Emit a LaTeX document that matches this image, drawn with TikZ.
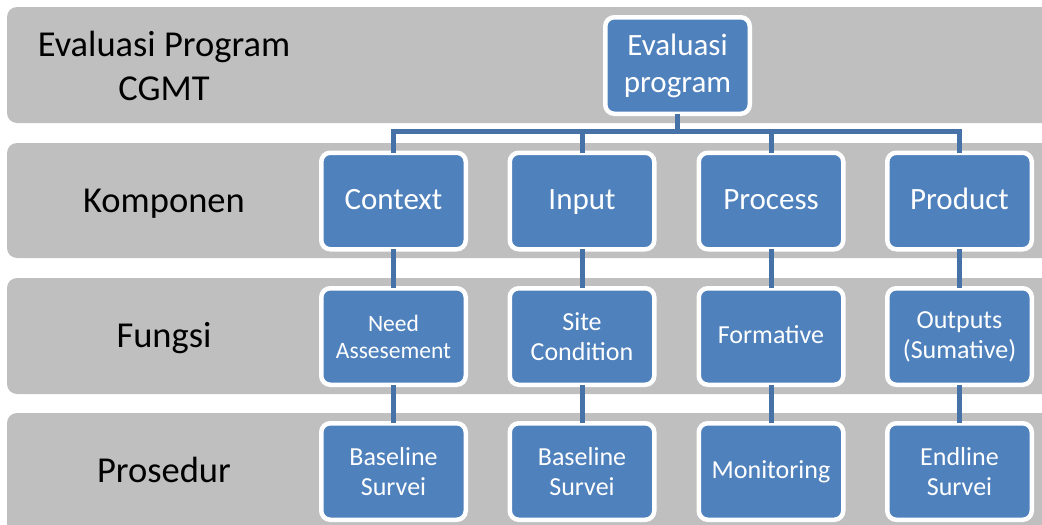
\documentclass[tikz,border=0pt]{standalone}
\usepackage{fontspec}
\setmainfont{Carlito}
\definecolor{bandgray}{RGB}{191,191,191}
\definecolor{boxblue}{RGB}{79,129,189}
\definecolor{linkblue}{RGB}{70,114,168}
\begin{document}
\begin{tikzpicture}[x=1pt,y=-1pt,
  band/.style={fill=bandgray,draw=none,rounded corners=10pt},
  rowlabel/.style={align=center,text=black,font=\fontsize{36.5}{44}\selectfont,inner sep=0pt},
  bbox/.style={fill=boxblue,draw=white,line width=4.5pt,rounded corners=9pt,
    minimum width=144.5pt,minimum height=96.5pt,text=white,align=center,inner sep=2pt},
  big/.style={font=\fontsize{31}{37}\selectfont},
  bigone/.style={big,text height=22pt,text depth=5.4pt},
  mid/.style={font=\fontsize{26}{30}\selectfont},
  midone/.style={mid,text height=18pt,text depth=4.4pt},
  small/.style={font=\fontsize{23.5}{27}\selectfont},
  conn/.style={draw=linkblue,line width=5pt}]
\useasboundingbox (0,0) rectangle (1042,525);
% bands
\path[band] (7,7) rectangle (1060,123);
\path[band] (7,143) rectangle (1060,258);
\path[band] (7,278) rectangle (1060,394);
\path[band] (7,413) rectangle (1060,540);
% row labels
\node[rowlabel] (l1) at (164,65.5) {Evaluasi Program\\CGMT};
\node[rowlabel,anchor=base] (l2) at (164,212.5) {Komponen};
\node[rowlabel,anchor=base] (l3) at (164,347.5) {Fungsi};
\node[rowlabel,anchor=base] (l4) at (164,482.7) {Prosedur};
% boxes
\node[bbox,big] (top) at (677.5,65.5) {Evaluasi\\program};
\node[bbox,bigone] (c1) at (393.5,201) {Context};
\node[bbox,bigone] (c2) at (582,201) {Input};
\node[bbox,bigone] (c3) at (771,201) {Process};
\node[bbox,bigone] (c4) at (959.5,201) {Product};
\node[bbox,small] (f1) at (393.5,336.5) {Need\\Assesement};
\node[bbox,mid] (f2) at (582,336.5) {Site\\Condition};
\node[bbox,midone] (f3) at (771,336.5) {Formative};
\node[bbox,mid] (f4) at (959.5,336.5) {Outputs\\(Sumative)};
\node[bbox,mid] (p1) at (393.5,471.5) {Baseline\\Survei};
\node[bbox,mid] (p2) at (582,471.5) {Baseline\\Survei};
\node[bbox,midone] (p3) at (771,471.5) {Monitoring};
\node[bbox,mid] (p4) at (959.5,471.5) {Endline\\Survei};
% connectors
\foreach \c in {c1,c2,c3,c4}{
  \draw[conn] ([yshift=2.25pt]top.south) -- ++(0,18) -| ([yshift=-2.25pt]\c.north);
}
\foreach \a/\b in {c1/f1,c2/f2,c3/f3,c4/f4,f1/p1,f2/p2,f3/p3,f4/p4}{
  \draw[conn] ([yshift=2.25pt]\a.south) -- ([yshift=-2.25pt]\b.north);
}
\end{tikzpicture}
\end{document}
